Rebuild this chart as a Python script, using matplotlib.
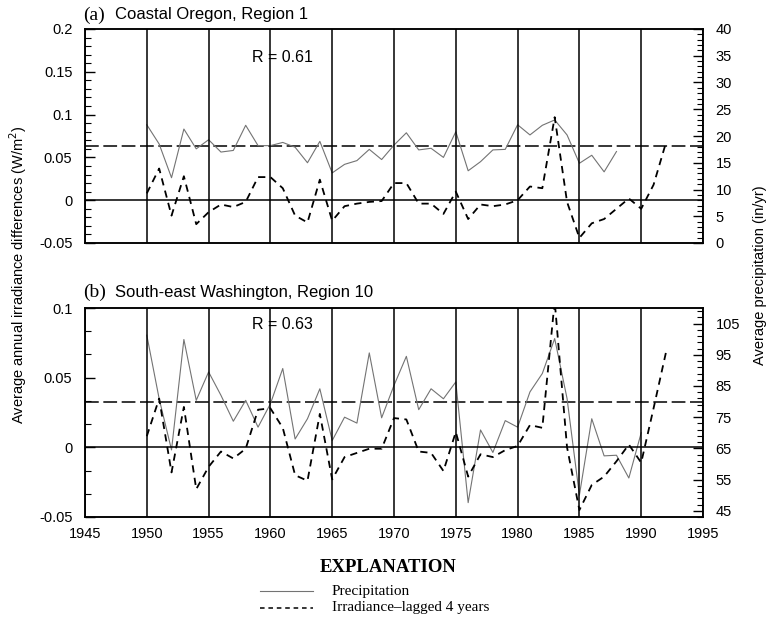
import matplotlib
matplotlib.use("Agg")
import matplotlib.pyplot as plt
from matplotlib.lines import Line2D
from matplotlib.ticker import MultipleLocator, FuncFormatter
import numpy as np

# data
years_irr = np.arange(1950, 1993)
years_pcp_or = np.arange(1950, 1989)
years_pcp_wa = np.arange(1950, 1991)

irr_oregon = [0.008, 0.037, -0.018, 0.028, -0.028, -0.014, -0.005, -0.008, -0.002, 0.027,
              0.027, 0.014, -0.018, -0.026, 0.024, -0.024, -0.007, -0.004, -0.002, -0.001,
              0.020, 0.020, -0.004, -0.004, -0.016, 0.010, -0.022, -0.005, -0.007, -0.005,
              0.000, 0.016, 0.014, 0.097, -0.002, -0.044, -0.027, -0.022, -0.010, 0.002,
              -0.010, 0.018, 0.067]
pcp_oregon = [22.1, 18.5, 12.2, 21.3, 17.6, 19.3, 17.0, 17.3, 22.0, 18.2,
              18.2, 18.8, 17.9, 15.0, 19.0, 13.1, 14.7, 15.4, 17.5, 15.6,
              18.3, 20.6, 17.4, 17.7, 16.0, 20.8, 13.5, 15.2, 17.4, 17.5,
              22.1, 20.2, 22.0, 23.0, 20.2, 14.9, 16.4, 13.3, 17.1]

irr_washington = [0.008, 0.035, -0.018, 0.029, -0.030, -0.014, -0.003, -0.008, -0.001, 0.027,
                  0.028, 0.014, -0.020, -0.024, 0.024, -0.023, -0.007, -0.004, -0.001, -0.001,
                  0.021, 0.020, -0.003, -0.004, -0.017, 0.011, -0.021, -0.005, -0.007, -0.002,
                  0.001, 0.016, 0.014, 0.105, 0.000, -0.045, -0.027, -0.021, -0.010, 0.002,
                  -0.011, 0.028, 0.068]
pcp_washington = [101.3, 80.9, 64.5, 99.9, 80.4, 89.5, 82.0, 73.7, 80.4, 71.8,
                  79.3, 90.6, 68.0, 74.5, 84.1, 67.5, 75.0, 73.1, 95.6, 74.8,
                  85.2, 94.5, 77.4, 84.1, 80.9, 86.3, 47.6, 70.9, 63.7, 73.9,
                  71.8, 83.1, 89.0, 100.2, 81.0, 50.0, 74.5, 62.6, 62.8, 55.5, 70.0]

ref_oregon = 18.2
ref_washington = 80.0

plt.rcParams['font.family'] = ['Liberation Sans', 'DejaVu Sans']
SERIF = ['Liberation Serif', 'DejaVu Serif']
TICK_FS = 10.5

fig = plt.figure(figsize=(7.7, 6.23), dpi=100)

W, H = 770, 623


def px_rect(x0, y0, x1, y1):
    return [x0 / W, 1 - y1 / H, (x1 - x0) / W, (y1 - y0) / H]


fmt = FuncFormatter(lambda v, p: f"{round(v, 3) + 0:g}")


def panel(rect, irr, pcp_years, pcp, ylim_l, ylim_r, ref, r_text, r_y,
          lmajor, lminor, rmajor, rminor, xlabels):
    ax = fig.add_axes(rect)
    ax2 = ax.twinx()
    ax.set_xlim(1945, 1995)
    ax.set_ylim(*ylim_l)
    ax2.set_ylim(*ylim_r)
    ax.xaxis.set_major_locator(MultipleLocator(5))
    ax.grid(True, axis='x', color='k', lw=1.1, zorder=1)
    ax.set_axisbelow(True)
    ax.tick_params(axis='x', length=0, pad=7, labelsize=TICK_FS,
                   labelbottom=xlabels)
    ax.yaxis.set_major_locator(MultipleLocator(lmajor))
    ax.yaxis.set_minor_locator(MultipleLocator(lminor))
    ax.yaxis.set_major_formatter(fmt)
    ax.tick_params(axis='y', which='major', direction='in', length=7,
                   width=1, labelsize=TICK_FS, pad=9)
    ax.tick_params(axis='y', which='minor', direction='in', length=4, width=0.8)
    ax2.yaxis.set_major_locator(MultipleLocator(*rmajor))
    ax2.yaxis.set_minor_locator(MultipleLocator(*rminor))
    ax2.tick_params(axis='y', which='major', direction='in', length=7,
                    width=1, labelsize=TICK_FS, pad=9)
    ax2.tick_params(axis='y', which='minor', direction='in', length=4, width=0.8)

    ax.axhline(0, color='k', lw=1.1, zorder=2)
    ax2.axhline(ref, color='k', lw=1.1, dashes=(9, 3), zorder=2)

    ax2.plot(pcp_years, pcp, color='0.45', lw=0.8, zorder=3)
    ax.plot(years_irr, irr, color='k', lw=1.3, dashes=(4, 3), zorder=4)
    ax.set_zorder(ax2.get_zorder() + 1)
    ax.patch.set_visible(False)

    for a in (ax, ax2):
        for s in a.spines.values():
            s.set_linewidth(1.1)
    ax.text(0.319, r_y, r_text, transform=ax.transAxes, ha='center',
            va='center', fontsize=11.5)
    return ax


panel(px_rect(85, 29, 703, 243), irr_oregon, years_pcp_or, pcp_oregon,
      (-0.05, 0.2), (0, 40), ref_oregon, "R = 0.61", 0.869,
      0.05, 0.01, (5,), (1,), False)
panel(px_rect(85, 308, 703, 517), irr_washington, years_pcp_wa, pcp_washington,
      (-0.05, 0.1), (43, 110), ref_washington, "R = 0.63", 0.919,
      0.05, 0.05 / 3, (10, 5), (2, 1), True)

# panel titles
for y, tag, name in [(15, "(a)", "Coastal Oregon, Region 1"),
                     (292, "(b)", "South-east Washington, Region 10")]:
    fig.text(83 / W, 1 - y / H, tag, family=SERIF, fontsize=14, va='center')
    fig.text(115 / W, 1 - y / H, name, fontsize=12, va='center')

fig.text(18 / W, 1 - 275 / H, "Average annual irradiance differences (W/m$^2$)",
         rotation=90, ha='center', va='center', fontsize=10.5)
fig.text(760 / W, 1 - 275 / H, "Average precipitation (in/yr)",
         rotation=90, ha='center', va='center', fontsize=10.5)

# explanation block
fig.text(388 / W, 1 - 567 / H, "EXPLANATION", family=SERIF, fontweight='bold',
         fontsize=13.5, ha='center', va='center')
fig.add_artist(Line2D([260 / W, 313 / W], [1 - 591 / H, 1 - 591 / H],
                      color='0.45', lw=0.8))
fig.add_artist(Line2D([260 / W, 313 / W], [1 - 608 / H, 1 - 608 / H],
                      color='k', lw=1.1, dashes=(3, 2.5)))
fig.text(332 / W, 1 - 591 / H, "Precipitation", family=SERIF, fontsize=11,
         va='center')
fig.text(332 / W, 1 - 608 / H, "Irradiance\u2013lagged 4 years", family=SERIF,
         fontsize=11, va='center')

fig.savefig("out.png", dpi=100)
